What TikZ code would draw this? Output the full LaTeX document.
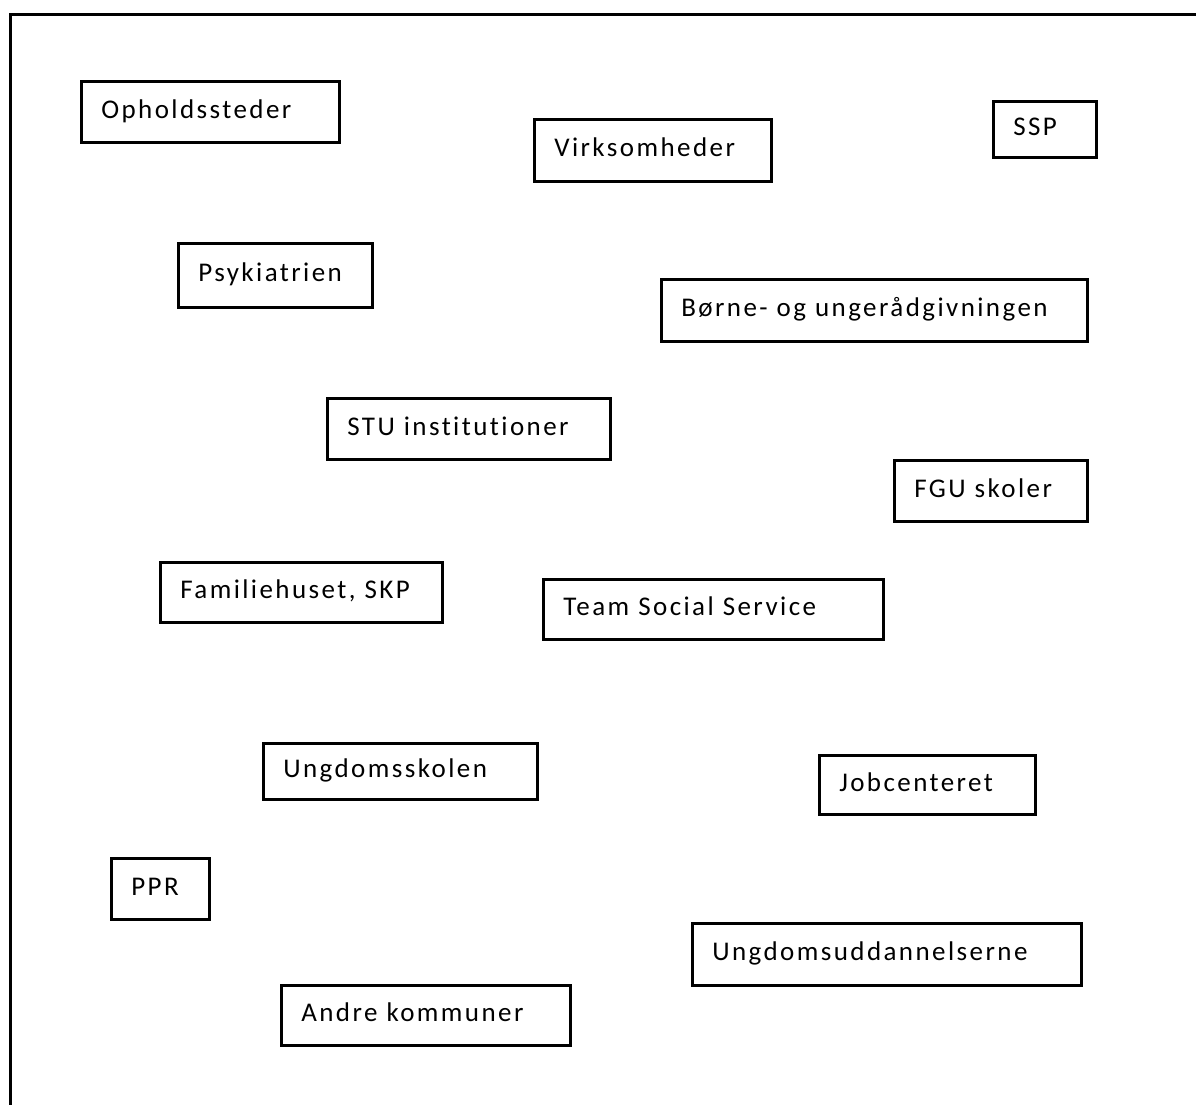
\documentclass[tikz,border=0pt]{standalone}
\usepackage{fontspec}
\setmainfont{Carlito}[LetterSpace=9, Ligatures={NoCommon,NoRare,NoContextual}, RawFeature={-liga;-dlig;-clig}]
\begin{document}
\begin{tikzpicture}[x=1pt,y=-1pt,
  entity/.style={draw, line width=2.6pt, anchor=north west, inner xsep=20pt, inner ysep=0pt,
    align=left, font=\fontsize{27}{31}\selectfont, text height=20pt, text depth=7pt}]
\useasboundingbox (0,0) rectangle (1196,1104);
\fill[white] (0,0) rectangle (1196,1104);
\draw[line width=3pt] (10.5,1110) -- (10.5,14.5) -- (1200,14.5);
\newcommand{\entbox}[6]{%
  \node[entity, minimum width=#4-#2, minimum height=#5-#3, text width=#4-#2-40pt] (#1) at (#2,#3) {#6};}
\entbox{oph}{80}{80}{338}{141}{Opholdssteder}
\entbox{virk}{533}{118}{770}{180}{Virksomheder}
\entbox{ssp}{992}{100}{1095}{156}{SSP}
\entbox{psyk}{177}{242}{371}{306}{Psykiatrien}
\entbox{bur}{660}{278}{1086}{340}{Børne- og ungerådgivningen}
\entbox{stu}{326}{397}{609}{458}{STU institutioner}
\entbox{fgu}{893}{459}{1086}{520}{FGU skoler}
\entbox{fam}{159}{561}{441}{621}{Familiehuset, SKP}
\entbox{tss}{542}{578}{882}{638}{Team Social Service}
\entbox{ungs}{262}{742}{536}{798}{Ungdomsskolen}
\entbox{job}{818}{754}{1034}{813}{Jobcenteret}
\entbox{ppr}{110}{857}{208}{918}{PPR}
\entbox{ungu}{691}{922}{1080}{984}{Ungdomsuddannelserne}
\entbox{andre}{280}{984}{569}{1044}{Andre kommuner}
\end{tikzpicture}
\end{document}
